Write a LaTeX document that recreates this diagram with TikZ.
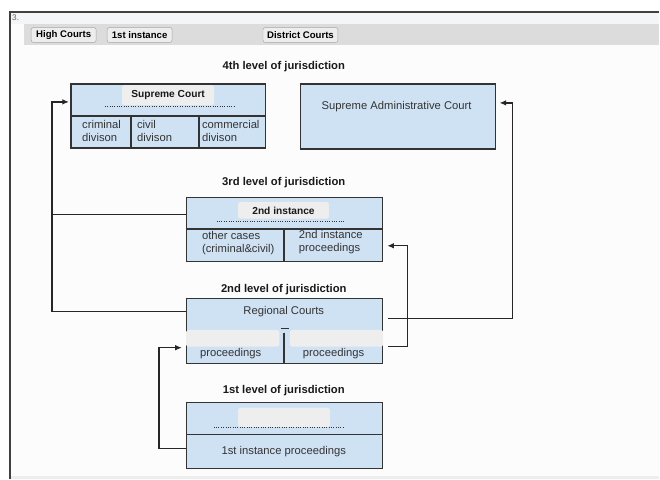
\documentclass[tikz,border=0pt]{standalone}
\usepackage{fontspec}
\setmainfont{Liberation Sans}
\usetikzlibrary{arrows.meta}
\definecolor{courtblue}{HTML}{CFE2F3}
\definecolor{edgegrey}{HTML}{333333}
\definecolor{tabgrey}{HTML}{EEEEEE}
\definecolor{bargrey}{HTML}{DCDCDC}
\definecolor{stripgrey}{HTML}{F4F5F7}
\definecolor{pagegrey}{HTML}{FCFCFC}
\tikzset{
	court/.style={draw=edgegrey, fill=courtblue, line width=1.4pt, anchor=north west, inner sep=0pt},
	divider/.style={draw=edgegrey, line width=1.3pt},
	titletab/.style={fill=tabgrey, rounded corners=1.5pt, inner sep=0pt, anchor=north west},
	dotline/.style={draw=edgegrey, line width=0.9pt, dash pattern=on 0.8pt off 1.2pt},
	link/.style={draw=black!85, line width=1.1pt},
	tip/.style={-{Latex[length=2mm, width=1.7mm]}},
	heading/.style={font=\fontsize{9.6}{11}\selectfont\bfseries, inner sep=0pt, text=black!90},
	celltext/.style={font=\fontsize{9.6}{11}\selectfont, align=left, anchor=west, inner sep=0pt, text=black!80},
	btn/.style={draw=black!35, fill=black!7, rounded corners=2pt, font=\fontsize{8.2}{10}\selectfont\bfseries, inner sep=0pt, minimum height=0.45cm, anchor=west}
}
\begin{document}
\begin{tikzpicture}[x=0.03cm, y=-0.03cm]
	% page and frame
	\fill[white] (0,0) rectangle (660,479);
	\fill[pagegrey] (10,12) rectangle (660,479);
	\fill[stripgrey] (10,12) rectangle (660,24);
	\fill[bargrey] (24,24) rectangle (660,45);
	\fill[black!7] (10,476) rectangle (660,479);
	\draw[black!75, line width=1pt] (660,12) -- (10,12) -- (10,479);
	\node[font=\fontsize{7}{8}\selectfont, text=black!60, anchor=west, inner sep=0pt] (num) at (12,18) {3.};
	
	\node[btn, minimum width=1.95cm] (high) at (31,35) {High Courts};
	\node[btn, minimum width=1.95cm] (inst) at (107,35) {1st instance};
	\node[btn, minimum width=2.25cm] (dist) at (263,35) {District Courts};
	
	% 4th level
	\node[heading] (lvl4) at (284,67) {4th level of jurisdiction};
	
	\node[court, minimum width=5.85cm, minimum height=1.92cm] (sup) at (70,83) {};
	\draw[divider] (70,116) -- (265,116);
	\draw[divider] (131,116) -- (131,147);
	\draw[divider] (199,116) -- (199,147);
	\node[titletab, minimum width=2.76cm, minimum height=0.6cm] (suptab) at (122,85) {};
	\node[heading, font=\fontsize{8.7}{10}\selectfont\bfseries] (suptitle) at (suptab) {Supreme Court};
	\draw[dotline] (105,107) -- (235,107);
	\node[celltext] (crim) at (82,131.5) {criminal\\divison};
	\node[celltext] (civ) at (137,131.5) {civil\\divison};
	\node[celltext] (com) at (202,131.5) {commercial\\divison};
	
	\node[court, minimum width=5.85cm, minimum height=1.95cm] (sad) at (300,83) {};
	\node[celltext, anchor=center] (sadtext) at (397,107) {Supreme Administrative Court};
	
	% 3rd level
	\node[heading] (lvl3) at (284,183) {3rd level of jurisdiction};
	
	\node[court, minimum width=5.88cm, minimum height=1.92cm] (sec) at (186,197) {};
	\draw[divider] (186,229) -- (382,229);
	\draw[divider] (284,229) -- (284,261);
	\node[titletab, minimum width=2.73cm, minimum height=0.5cm] (sectab) at (238,202) {};
	\node[heading, font=\fontsize{8.7}{10}\selectfont\bfseries] (sectitle) at (sectab) {2nd instance};
	\draw[dotline] (217,222) -- (345,222);
	\node[celltext] (other) at (202,243) {other cases\\(criminal\&civil)};
	\node[celltext] (secproc) at (299,242) {2nd instance\\proceedings};
	
	% 2nd level
	\node[heading] (lvl2) at (284,290) {2nd level of jurisdiction};
	
	\node[court, minimum width=5.88cm, minimum height=1.95cm] (reg) at (186,298) {};
	\node[celltext, anchor=center] (regtext) at (284,312) {Regional Courts};
	\draw[divider] (284,333) -- (284,363);
	\node[celltext] (regleft) at (200,354) {proceedings};
	\node[celltext] (regright) at (303,354) {proceedings};
	\node[titletab, minimum width=2.8cm, minimum height=0.5cm] (regtabl) at (186,330) {};
	\node[titletab, minimum width=2.8cm, minimum height=0.5cm] (regtabr) at (290,330) {};
	\draw[line width=1.3pt, edgegrey] (281,329) -- (289,329);
	
	% 1st level
	\node[heading] (lvl1) at (284,391) {1st level of jurisdiction};
	
	\node[court, minimum width=5.88cm, minimum height=1.98cm] (fst) at (186,402) {};
	\draw[divider] (186,435) -- (382,435);
	\node[titletab, minimum width=2.76cm, minimum height=0.57cm] (fsttab) at (238,408) {};
	\draw[dotline] (214,428) -- (343,428);
	\node[celltext, anchor=center] (fsttext) at (284,452) {1st instance proceedings};
	
	% connectors
	\draw[link, tip, shorten >=0.03cm] (regtext -| reg.west) -- (52,312) |- (sup.west |- 0,102);
	\draw[link] (sec.west |- 0,215) -- (52,215);
	\draw[link, tip, shorten >=0.1cm] ([xshift=0.15cm]reg.east |- 0,319) -| (513,103) -- (sad.east |- 0,103);
	\draw[link, tip, shorten >=0.12cm] ([xshift=0.15cm]reg.east |- 0,347) -| (408,246) -- (sec.east |- 0,246);
	\draw[link, tip, shorten >=0.12cm] (fst.west |- 0,449) -| (159,348) -- (reg.west |- 0,348);
\end{tikzpicture}
\end{document}
